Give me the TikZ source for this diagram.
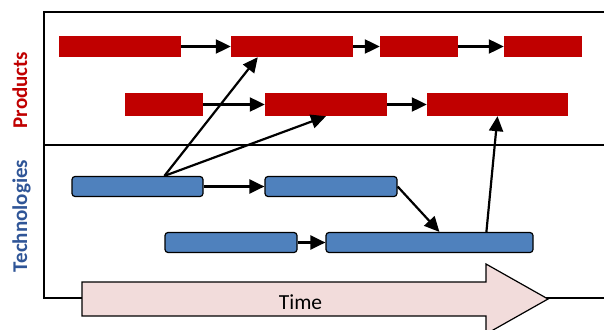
\documentclass[tikz,border=0pt]{standalone}
\usepackage{fontspec}
\setmainfont{Carlito}
\usetikzlibrary{arrows.meta,calc}
\definecolor{prodred}{HTML}{C00000}
\definecolor{techblue}{HTML}{4F81BD}
\definecolor{techtext}{HTML}{2F5597}
\definecolor{timefill}{HTML}{F2DCDB}
\tikzset{
  prod/.style={fill=prodred, draw=none, inner sep=0pt, minimum height=21pt},
  tech/.style={fill=techblue, draw=black, line width=1.2pt, rounded corners=3pt, inner sep=0pt, minimum height=20pt},
  conn/.style={line width=2.2pt, -{Triangle[length=15pt,width=14pt]}},
  frameline/.style={line width=1.4pt},
  lab/.style={font=\fontsize{21}{24}\selectfont\bfseries, rotate=90, anchor=base, inner sep=0pt}
}
\begin{document}
\begin{tikzpicture}[x=1pt,y=-1pt]
\useasboundingbox (0,0) rectangle (604,329);
% frame
\draw[frameline] (604,12) -- (44,12) -- (44,298) -- (90,298);
\draw[frameline] (540,298) -- (604,298);
\draw[frameline] (44,145) -- (604,145);
% time arrow
\draw[fill=timefill, line width=1.2pt] (82,282) -- (486,282) -- (486,264) -- (548,299) -- (486,334) -- (486,316) -- (82,316) -- cycle;
\node[font=\fontsize{21.5}{24}\selectfont, anchor=base, inner sep=0pt] (time) at (300.5,309) {Time};
% labels
\node[lab, text=prodred] (lprod) at (27,90) {Products};
\node[lab, text=techtext] (ltech) at (27,216) {Technologies};
% product boxes
\node[prod, minimum width=122pt] (P1) at (120,46.5) {};
\node[prod, minimum width=122pt] (P2) at (292,46.5) {};
\node[prod, minimum width=78pt] (P3) at (419,46.5) {};
\node[prod, minimum width=78pt] (P4) at (543,46.5) {};
\node[prod, minimum width=78pt, minimum height=23pt] (Q1) at (164,104.5) {};
\node[prod, minimum width=122pt, minimum height=23pt] (Q2) at (326,104.5) {};
\node[prod, minimum width=141pt, minimum height=23pt] (Q3) at (497.5,104.5) {};
% technology boxes
\node[tech, minimum width=131pt] (T1) at (137.5,186.5) {};
\node[tech, minimum width=132pt] (T2) at (331,186.5) {};
\node[tech, minimum width=132pt] (U1) at (231,242.5) {};
\node[tech, minimum width=207pt] (U2) at (429.5,242.5) {};
% helper coordinates
\coordinate (t1top) at ($(T1.north west)+(93,0)$);
\coordinate (p2bot) at ($(P2.south west)+(27,0)$);
\coordinate (u2in) at ($(U2.north west)+(114,0)$);
\coordinate (u2out) at ($(U2.north west)+(161,0)$);
% connectors
\draw[conn] (P1.east) -- (P2.west);
\draw[conn] (P2.east) -- (P3.west);
\draw[conn] (P3.east) -- (P4.west);
\draw[conn] (Q1.east) -- (Q2.west);
\draw[conn] (Q2.east) -- (Q3.west);
\draw[conn] (T1.east) -- (T2.west);
\draw[conn] (U1.east) -- (U2.west);
\draw[conn] (t1top) -- (p2bot);
\draw[conn] (t1top) -- (Q2.south);
\draw[conn] (T2.east) -- (u2in);
\draw[conn] (u2out) -- (Q3.south);
\end{tikzpicture}
\end{document}
